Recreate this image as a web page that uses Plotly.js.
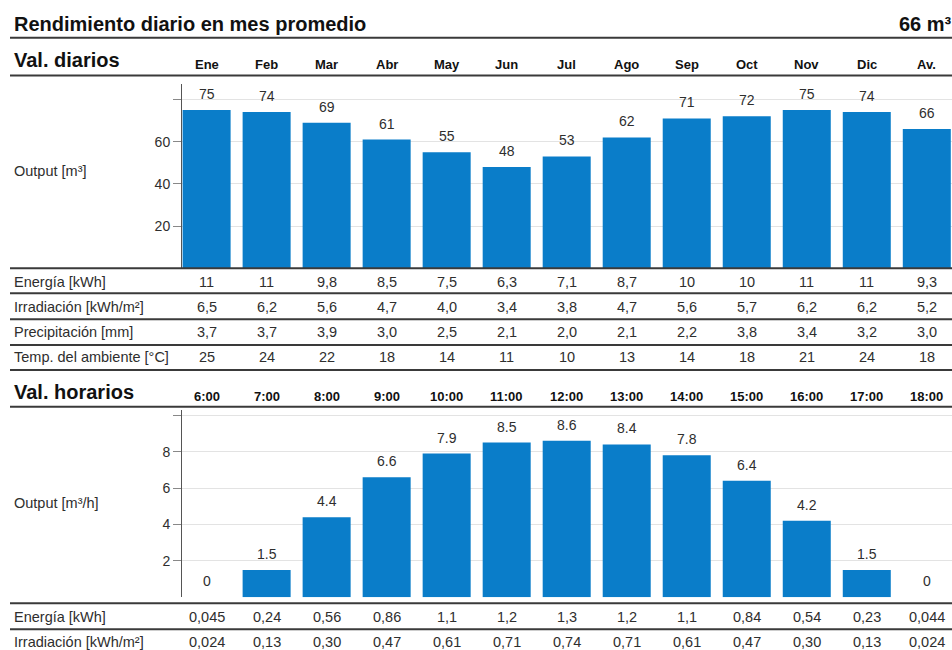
<!DOCTYPE html>
<html>
<head>
<meta charset="utf-8">
<script src="https://cdn.plot.ly/plotly-3.0.1.min.js"></script>
<style>html,body{margin:0;padding:0;background:#fff;}#chart{width:952px;height:650px;}</style>
</head>
<body>
<div id="chart"></div>
<script>
// ---- Data ----
const months = ['Ene','Feb','Mar','Abr','May','Jun','Jul','Ago','Sep','Oct','Nov','Dic','Av.'];
const dailyOutput = [75,74,69,61,55,48,53,62,71,72,75,74,66];
const dailyEnergia = ['11','11','9,8','8,5','7,5','6,3','7,1','8,7','10','10','11','11','9,3'];
const dailyIrradiacion = ['6,5','6,2','5,6','4,7','4,0','3,4','3,8','4,7','5,6','5,7','6,2','6,2','5,2'];
const dailyPrecipitacion = ['3,7','3,7','3,9','3,0','2,5','2,1','2,0','2,1','2,2','3,8','3,4','3,2','3,0'];
const dailyTemp = ['25','24','22','18','14','11','10','13','14','18','21','24','18'];

const hours = ['6:00','7:00','8:00','9:00','10:00','11:00','12:00','13:00','14:00','15:00','16:00','17:00','18:00'];
const hourlyOutput = [0,1.5,4.4,6.6,7.9,8.5,8.6,8.4,7.8,6.4,4.2,1.5,0];
const hourlyEnergia = ['0,045','0,24','0,56','0,86','1,1','1,2','1,3','1,2','1,1','0,84','0,54','0,23','0,044'];
const hourlyIrradiacion = ['0,024','0,13','0,30','0,47','0,61','0,71','0,74','0,71','0,61','0,47','0,30','0,13','0,024'];

const dailyRows = [
  ['Energía [kWh]', dailyEnergia],
  ['Irradiación [kWh/m²]', dailyIrradiacion],
  ['Precipitación [mm]', dailyPrecipitacion],
  ['Temp. del ambiente [°C]', dailyTemp]
];
const hourlyRows = [
  ['Energía [kWh]', hourlyEnergia],
  ['Irradiación [kWh/m²]', hourlyIrradiacion]
];

// ---- Layout helpers ----
const W = 952, H = 650;
const px = v => v / W;
const py = v => 1 - v / H;
const FONT = 'Liberation Sans, Arial, sans-serif';
const TXT = '#2e2e2e';
const BAR = '#0A7DC9';
const RULE = '#3a3a3a';
const BODY = 14.5;

const annotations = [];
const shapes = [];

function addText(text, x, y, opts) {
  annotations.push(Object.assign({
    text: text, x: x, y: y, xref: 'paper', yref: 'paper',
    showarrow: false, xanchor: 'left', yanchor: 'middle',
    font: {family: FONT, size: BODY, color: TXT}
  }, opts || {}));
}
function hRule(y, w) {
  shapes.push({type: 'line', xref: 'paper', yref: 'paper',
    x0: px(10), x1: px(952), y0: py(y), y1: py(y),
    line: {color: RULE, width: w || 2}});
}

// Titles
addText('<b>Rendimiento diario en mes promedio</b>', px(12), py(24), {font: {family: FONT, size: 20, color: '#111'}});
addText('<b>66 m³</b>', px(954), py(24), {xanchor: 'right', font: {family: FONT, size: 20, color: '#111'}});
hRule(37.7, 2);

addText('<b>Val. diarios</b>', px(12), py(60), {font: {family: FONT, size: 20, color: '#111'}});
hRule(75.5, 2);
months.forEach((m) => {
  annotations.push({text: '<b>' + m + '</b>', x: m, y: py(64), xref: 'x', yref: 'paper',
    showarrow: false, xanchor: 'center', yanchor: 'middle',
    font: {family: FONT, size: 13, color: '#111'}});
});
addText('Output [m³]', px(12), py(171), {});

// Daily bar labels
dailyOutput.forEach((v, i) => {
  annotations.push({text: String(v), x: months[i], y: v, xref: 'x', yref: 'y',
    showarrow: false, xanchor: 'center', yanchor: 'middle', yshift: 16,
    font: {family: FONT, size: 14, color: TXT}});
});

// Daily table
hRule(268.3, 2);
const dailyRowY = [281.7, 306.7, 331.7, 356.7];
const dailyLineY = [293.3, 319.3, 345, 370];
dailyRows.forEach((row, r) => {
  addText(row[0], px(12), py(dailyRowY[r]), {});
  row[1].forEach((val, i) => {
    annotations.push({text: val, x: months[i], y: py(dailyRowY[r]), xref: 'x', yref: 'paper',
      showarrow: false, xanchor: 'center', yanchor: 'middle',
      font: {family: FONT, size: BODY, color: TXT}});
  });
  hRule(dailyLineY[r], 2);
});

// Hourly header
addText('<b>Val. horarios</b>', px(12), py(392), {font: {family: FONT, size: 20, color: '#111'}});
hours.forEach((h) => {
  annotations.push({text: '<b>' + h + '</b>', x: h, y: py(396), xref: 'x2', yref: 'paper',
    showarrow: false, xanchor: 'center', yanchor: 'middle',
    font: {family: FONT, size: 13, color: '#111'}});
});
hRule(406.7, 2);
addText('Output [m³/h]', px(12), py(503), {});

hourlyOutput.forEach((v, i) => {
  annotations.push({text: String(v), x: hours[i], y: v, xref: 'x2', yref: 'y2',
    showarrow: false, xanchor: 'center', yanchor: 'middle', yshift: 16,
    font: {family: FONT, size: 14, color: TXT}});
});

hRule(603.3, 2);
const hourlyRowY = [616.7, 641.7];
const hourlyLineY = [629.3];
hourlyRows.forEach((row, r) => {
  addText(row[0], px(12), py(hourlyRowY[r]), {});
  row[1].forEach((val, i) => {
    annotations.push({text: val, x: hours[i], y: py(hourlyRowY[r]), xref: 'x2', yref: 'paper',
      showarrow: false, xanchor: 'center', yanchor: 'middle',
      font: {family: FONT, size: BODY, color: TXT}});
  });
  if (hourlyLineY[r]) hRule(hourlyLineY[r], 2);
});

// ---- Traces ----
const traces = [
  {type: 'bar', x: months, y: dailyOutput, xaxis: 'x', yaxis: 'y',
   marker: {color: BAR, line: {width: 0}}, hoverinfo: 'none'},
  {type: 'bar', x: hours, y: hourlyOutput, xaxis: 'x2', yaxis: 'y2',
   marker: {color: BAR, line: {width: 0}}, hoverinfo: 'none'}
];

const xCommon = {
  type: 'category', range: [-0.41, 12.42], domain: [px(182), 1],
  showticklabels: false, ticks: '', showgrid: false, zeroline: false, showline: false, fixedrange: true
};
const yCommon = {
  showline: true, linecolor: '#555', linewidth: 1, ticks: 'outside', ticklen: 8, tickcolor: '#888',
  showgrid: true, gridcolor: '#e3e3e3', gridwidth: 1, zeroline: false,
  tickfont: {family: FONT, size: 14, color: TXT}, fixedrange: true
};

const layout = {
  width: W, height: H,
  margin: {l: 0, r: 0, t: 0, b: 0},
  paper_bgcolor: '#fff', plot_bgcolor: '#fff',
  showlegend: false, bargap: 0.2,
  font: {family: FONT, color: TXT},
  xaxis: Object.assign({}, xCommon, {anchor: 'y'}),
  yaxis: Object.assign({}, yCommon, {anchor: 'x', domain: [py(268.3), py(84)], range: [0, 87.3],
    tickvals: [20, 40, 60, 80], ticktext: ['20', '40', '60', '']}),
  xaxis2: Object.assign({}, xCommon, {anchor: 'y2'}),
  yaxis2: Object.assign({}, yCommon, {anchor: 'x2', domain: [py(597.3), py(410)], range: [0, 10.29],
    tickvals: [2, 4, 6, 8, 10], ticktext: ['2', '4', '6', '8', '']}),
  annotations: annotations,
  shapes: shapes
};

Plotly.newPlot('chart', traces, layout, {displayModeBar: false, staticPlot: true});
</script>
</body>
</html>
